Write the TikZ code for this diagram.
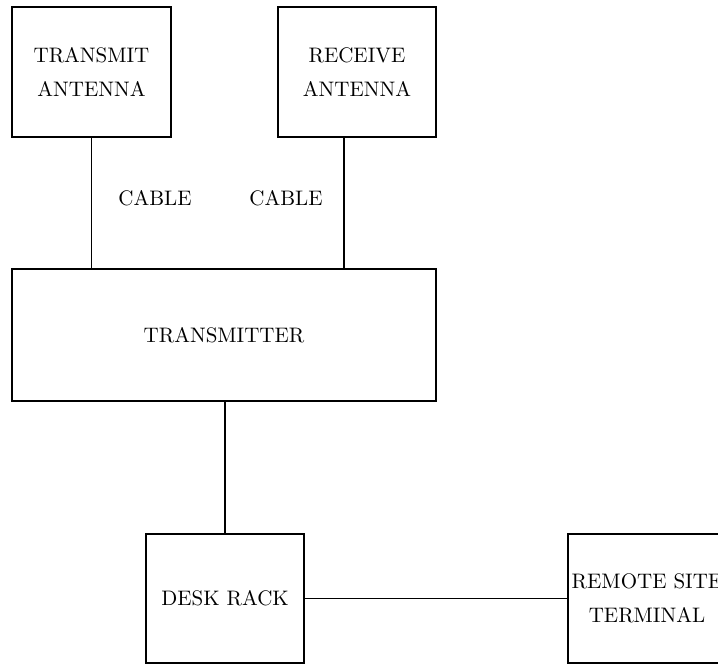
\documentclass[tikz,border=0pt]{standalone}
\begin{document}
\begin{tikzpicture}[x=0.5pt,y=-0.5pt,
    block/.style={draw,line width=0.8pt,align=center,inner sep=0pt,
        font=\fontsize{10.5}{17}\selectfont},
    lbl/.style={inner sep=0pt,font=\fontsize{10.5}{13}\selectfont},
    wire/.style={line width=0.8pt}]
    % Frame
    \useasboundingbox (0,0) rectangle (718,664);
    \clip (0,0) rectangle (718,664);

    % Antennas
    \node[block,minimum width=79.5pt,minimum height=65pt] (txant) at (91.5,72) {TRANSMIT\\ANTENNA};
    \node[block,minimum width=79pt,minimum height=65pt] (rxant) at (357,72) {RECEIVE\\ANTENNA};

    % Transmitter
    \node[block,minimum width=212pt,minimum height=66pt] (tx) at (224,335) {TRANSMITTER};

    % Desk rack and remote terminal
    \node[block,minimum width=79pt,minimum height=64.5pt] (desk) at (225,598.5) {DESK RACK};
    \node[block,minimum width=79pt,minimum height=64.5pt] (remote) at (647,598.5) {REMOTE SITE\\TERMINAL};

    % Cable labels
    \node[lbl] (cable1) at (155,198) {CABLE};
    \node[lbl] (cable2) at (286,198) {CABLE};

    % Connections
    \draw[wire] (txant.south) -- (txant.south |- tx.north);
    \draw[wire] ([xshift=-6.5pt]rxant.south) -- ([xshift=-6.5pt]rxant.south |- tx.north);
    \draw[wire] (desk.north) -- (desk.north |- tx.south);
    \draw[wire] (desk.east) -- (remote.west);
\end{tikzpicture}
\end{document}
